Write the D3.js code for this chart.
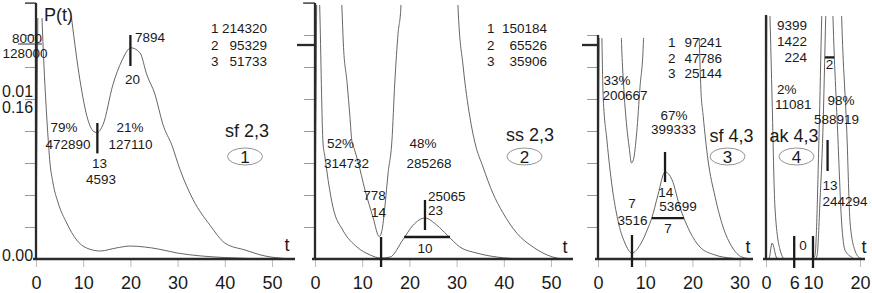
<!DOCTYPE html>
<head>
  <meta charset="utf-8" />
  <script src="https://cdn.jsdelivr.net/npm/d3@7"></script>
  <style>
    body { margin: 0; background: #fff; }
    svg { display: block; font-family: "Liberation Sans", Arial, sans-serif; }
    .curve { fill: none; stroke: #666; stroke-width: 1; }
    .axline { stroke: #2a2a2a; stroke-width: 2.3; }
    .mark { stroke: #1a1a1a; stroke-width: 2.3; }
    .ytick line { stroke: #999; }
    .xtick line { stroke: #bbb; }
    text { fill: #1a1a1a; }
  </style>
</head>

<body>
  <svg width="872" height="293"></svg>
  <script>
    // P(t) values are given in units of 1e-3 (tick step = 2 = 0.002)
    // panel 1  sf 2,3
    const t1 = [0, 0.7, 1.3, 2.6, 2.9, 3.6, 4.7, 6.5, 8.6, 10.7, 13.6, 17, 20, 23, 26, 30, 35, 40, 45, 50];
    const p1 = [0, 20, 14.8, 7.4, 6.2, 4.75, 3.5, 2.25, 1.19, 0.69, 0.5, 0.69, 0.81, 0.75, 0.62, 0.37, 0.19, 0.09, 0.03, 0];
    const t1m = [0, 0.3, 4, 7.6, 9.3, 11, 12.1, 12.9, 14.2, 16.3, 18.2, 20.1, 22, 23.5, 25.2, 26.9, 28.8, 30.5, 33.3, 36.9, 40, 44.3, 48.5, 52.8];
    const p1m = [0, 25, 25, 14.9, 11.2, 8.7, 8.0, 7.9, 8.4, 10.9, 12.4, 13.2, 12.9, 11.5, 10.3, 8.4, 7.1, 5.6, 3.7, 2.1, 1.0, 0.56, 0.19, 0.03];

    // panel 2  ss 2,3
    const t2 = [0, 0.6, 1.0, 1.7, 2.1, 2.8, 3.8, 5.9, 8.9, 11.7, 13.8, 15.9, 18.6, 20.8, 23.3, 25.8, 28, 30.7, 34.3, 38.6, 44];
    const p2 = [0, 20, 15.75, 7.25, 6.4, 4.9, 3.25, 1.8, 0.75, 0.25, 0.06, 0.12, 1.19, 2.12, 2.56, 2.12, 1.5, 0.75, 0.37, 0.12, 0];
    const t2m = [0, 0.5, 4, 5.7, 6.0, 6.8, 7.4, 7.8, 8.3, 9.1, 10.6, 12.3, 13.6, 14.2, 14.8, 15.5, 16.3, 16.9, 17.6, 18.2, 19, 29.5, 30.3, 31.4, 32.8, 33.9, 35.6, 37.7, 39.8, 42.8, 46.2, 50.4, 52.5];
    const p2m = [0, 25, 25, 15.75, 13.5, 11, 8.9, 7.4, 6.9, 6.1, 4.3, 2.6, 1.4, 1.8, 3.25, 5.4, 7.4, 11, 14.1, 15.75, 25, 25, 15.75, 12, 8.9, 7.25, 5.75, 4.1, 2.9, 1.6, 0.75, 0.12, 0];

    // panel 3  sf 4,3
    const t3 = [0, 0.4, 0.85, 1.06, 1.9, 3.0, 4.2, 5.7, 7.2, 8.9, 10.6, 11.4, 12.7, 14.2, 15.7, 17.4, 18.2, 19.5, 21.6, 24.8, 28, 31];
    const p3 = [0, 18, 13.4, 10.4, 7.4, 4.5, 2.44, 1.0, 0.37, 0.87, 1.94, 2.56, 4.0, 5.44, 4.94, 3.19, 2.56, 1.69, 0.75, 0.25, 0.06, 0];
    const t3m = [0, 0.3, 4.5, 5.0, 5.4, 6.1, 6.6, 7.1, 7.5, 8.2, 8.9, 9.6, 10.2, 20.5, 21.4, 21.8, 22.3, 23.3, 24.8, 26.5, 28.4, 30.5, 32.6];
    const p3m = [0, 20, 20, 13.4, 11, 8.25, 7, 6, 6.2, 7.9, 10.75, 13.4, 20, 20, 14.2, 10.6, 8.9, 6.2, 3.9, 2, 0.75, 0.12, 0];

    // panel 4  ak 4,3
    const t4 = [0, 0.6, 1.3, 2.3, 3, 10.3, 10.85, 11.5, 12.1, 12.7, 13.3, 13.8, 14.25, 15.25, 16.1, 16.8, 18.2, 19, 21];
    const p4 = [0, 0, 1.0, 0.06, 0, 0, 0.2, 3.7, 7.9, 15.1, 22, 20, 15.1, 7.9, 2.25, 0.56, 0.12, 0, 0];
    const t4m = [0, 0.3, 0.85, 1.3, 1.9, 3.0, 4.0, 9.5, 10.4, 11.3, 11.85, 12.5, 15.5, 16.1, 17.2, 17.9, 18.9, 20, 21];
    const p4m = [0, 20, 15.1, 9.9, 3.25, 0.56, 0, 0, 0.2, 7.9, 15.1, 22, 22, 15.1, 7.9, 2.25, 0.56, 0.06, 0];

    // tick labels
    const xTicks1 = [0, 10, 20, 30, 40, 50];
    const xTicks2 = [0, 10, 20, 30, 40, 50];
    const xTicks3 = [0, 10, 20, 30];
    const xTicks4 = [0, 6, 10, 20];
    const yTicks12 = [2, 4, 6, 8, 10, 12, 14, 16];
    const yTicks3 = [2, 4, 6, 8, 10, 12, 14];

    // annotation marks: vertical [t, v0, v1], horizontal [v, t0, t1]
    const vmarks = [
      [[20, 12.06, 14], [13, 6.6, 8.5]],
      [[14, -0.5, 1.375], [23.3, 1.81, 3.69]],
      [[7.2, -0.5, 1.5], [14.2, 4.81, 6.69]],
      [[6, -0.56, 1.44], [10, -0.56, 1.44], [13.1, 5.5, 7.44]]
    ];
    const hmarks = [[], [[1.375, 18.9, 28.6]], [[2.56, 11.4, 18.2]], [[12.6, 12.55, 14.5]]];

    const panels = [
      { x0: 36, xEnd: 295, top: 3, clipTop: 18, k: 4.72, t: t1, p: p1, tm: t1m, pm: p1m, ticks: xTicks1, yt: yTicks12 },
      { x0: 315, xEnd: 573, top: 3, clipTop: 5, k: 4.72, t: t2, p: p2, tm: t2m, pm: p2m, ticks: xTicks2, yt: yTicks12 },
      { x0: 598, xEnd: 753, top: 35, clipTop: 38, k: 4.72, t: t3, p: p3, tm: t3m, pm: p3m, ticks: xTicks3, yt: yTicks3 },
      { x0: 766, xEnd: 865, top: 15, clipTop: 16, k: 4.7, t: t4, p: p4, tm: t4m, pm: p4m, ticks: xTicks4, yt: [] }
    ];

    const svg = d3.select("svg");
    const base = 259;
    const y = d3.scaleLinear().domain([0, 16]).range([base, 3]);

    panels.forEach((P, i) => {
      const tMax = (P.xEnd - P.x0) / P.k;
      const x = d3.scaleLinear().domain([0, tMax]).range([P.x0, P.xEnd]);
      const g = svg.append("g");

      svg.append("clipPath").attr("id", "clip" + i)
        .append("rect").attr("x", P.x0).attr("y", P.clipTop)
        .attr("width", P.xEnd - P.x0).attr("height", base - P.clipTop + 1);

      // y ticks
      if (P.yt.length) {
        g.append("g").attr("class", "ytick")
          .attr("transform", `translate(${P.x0},0)`)
          .call(d3.axisLeft(y).tickValues(P.yt).tickSize(11).tickFormat(""))
          .call(s => s.select(".domain").remove());
      }
      // x ticks
      g.append("g").attr("class", "xtick")
        .attr("transform", `translate(0,${base})`)
        .call(d3.axisBottom(x).tickValues(P.ticks).tickSize(8).tickPadding(9))
        .call(s => s.select(".domain").remove())
        .selectAll("text").attr("font-size", 18).attr("fill", "#1a1a1a")
        .attr("font-family", '"Liberation Sans", Arial, sans-serif');

      const line = d3.line().x(d => x(d[0])).y(d => y(d[1])).curve(d3.curveMonotoneX);
      const cg = g.append("g").attr("clip-path", `url(#clip${i})`);
      cg.append("path").attr("class", "curve").attr("d", line(P.t.map((t, j) => [t, P.p[j]])));
      cg.append("path").attr("class", "curve").attr("d", line(P.tm.map((t, j) => [t, P.pm[j]])));

      // axes
      g.append("line").attr("class", "axline")
        .attr("x1", P.x0).attr("x2", P.x0).attr("y1", P.top).attr("y2", base);
      g.append("line").attr("class", "axline")
        .attr("x1", P.x0 - 3).attr("x2", P.xEnd).attr("y1", base).attr("y2", base);

      vmarks[i].forEach(m => {
        g.append("line").attr("class", "mark")
          .attr("x1", x(m[0])).attr("x2", x(m[0])).attr("y1", y(m[1])).attr("y2", y(m[2]));
      });
      hmarks[i].forEach(m => {
        g.append("line").attr("class", "mark")
          .attr("x1", x(m[1])).attr("x2", x(m[2])).attr("y1", y(m[0])).attr("y2", y(m[0]));
      });
    });

    // long ticks on panels 2 and 3
    svg.append("line").attr("class", "axline").attr("x1", 297).attr("x2", 315).attr("y1", y(13.375)).attr("y2", y(13.375));
    svg.append("line").attr("class", "axline").attr("x1", 582).attr("x2", 598).attr("y1", y(13.375)).attr("y2", y(13.375));
    svg.append("line").attr("stroke", "#333").attr("stroke-width", 1.2).attr("x1", 25).attr("x2", 36).attr("y1", 3).attr("y2", 3);
    svg.append("line").attr("stroke", "#333").attr("stroke-width", 1.2).attr("x1", 303).attr("x2", 315).attr("y1", 3).attr("y2", 3);
    // fraction bar
    svg.append("line").attr("stroke", "#333").attr("stroke-width", 1).attr("x1", 18).attr("x2", 42).attr("y1", 44).attr("y2", 44);

    // legend tables
    const counts = [
      { xi: 211, xv: 267, ys: [28, 45, 61], v: ["214320", "95329", "51733"] },
      { xi: 487, xv: 547, ys: [28, 45, 61], v: ["150184", "65526", "35906"] },
      { xi: 668, xv: 722, ys: [42, 58, 73], v: ["97241", "47786", "25144"] }
    ];
    counts.forEach(c => {
      c.v.forEach((v, j) => {
        svg.append("text").attr("x", c.xi).attr("y", c.ys[j]).attr("dy", "0.36em").attr("font-size", 13.5).text(j + 1);
        svg.append("text").attr("x", c.xv).attr("y", c.ys[j]).attr("dy", "0.36em").attr("font-size", 13.5)
          .attr("text-anchor", "end").text(v);
      });
    });

    // ellipses with panel numbers
    [[245, "1"], [524.5, "2"], [727.5, "3"], [796.5, "4"]].forEach(e => {
      svg.append("ellipse").attr("cx", e[0]).attr("cy", 156.5).attr("rx", 17.5).attr("ry", 8.5)
        .attr("fill", "none").attr("stroke", "#777").attr("stroke-width", 0.8);
      svg.append("text").attr("x", e[0]).attr("y", 156.5).attr("dy", "0.36em")
        .attr("text-anchor", "middle").attr("font-size", 17).text(e[1]);
    });

    // labels: [text, x, y, anchor, size]
    const labels = [
      ["P(t)", 44, 15, "start", 18], ["8000", 27, 38, "middle", 13.5], ["128000", 25, 53, "middle", 13.5],
      ["0.01", 2, 91, "start", 16], ["0.16", 2, 107, "start", 16], ["0.00", 2, 255, "start", 16],
      ["7894", 135, 37, "start", 13.5], ["20", 132.5, 79, "middle", 13.5],
      ["79%", 64, 127, "middle", 13.5], ["472890", 68, 144, "middle", 13.5],
      ["21%", 130, 127, "middle", 13.5], ["127110", 130.5, 144, "middle", 13.5],
      ["13", 99.5, 163, "middle", 13.5], ["4593", 101, 179, "middle", 13.5],
      ["sf 2,3", 247, 131, "middle", 18], ["t", 287, 245, "middle", 18],

      ["52%", 340.5, 143, "middle", 13.5], ["314732", 346.5, 163, "middle", 13.5],
      ["48%", 423, 143, "middle", 13.5], ["285268", 429, 163, "middle", 13.5],
      ["778", 374.5, 195, "middle", 13.5], ["14", 378.5, 212, "middle", 13.5],
      ["25065", 428, 196, "start", 13.5], ["23", 428, 210, "start", 13.5],
      ["10", 425, 248, "middle", 13.5], ["ss 2,3", 530, 135, "middle", 18], ["t", 565, 247, "middle", 18],

      ["33%", 617, 80, "middle", 13.5], ["200667", 625, 95, "middle", 13.5],
      ["67%", 674, 115, "middle", 13.5], ["399333", 673.5, 129.5, "middle", 13.5],
      ["14", 665.7, 192, "middle", 13.5], ["53699", 678, 206, "middle", 13.5],
      ["7", 668, 228, "middle", 13.5], ["7", 632, 203, "middle", 13.5], ["3516", 632.5, 220, "middle", 13.5],
      ["sf 4,3", 731.5, 136, "middle", 18], ["t", 748, 247, "middle", 18],

      ["9399", 807, 25, "end", 13.5], ["1422", 807, 41, "end", 13.5], ["224", 807, 57, "end", 13.5],
      ["2%", 777, 89, "start", 13.5], ["11081", 775, 104, "start", 13.5],
      ["98%", 841, 100, "middle", 13.5], ["588919", 836.5, 119, "middle", 13.5],
      ["13", 830, 185, "middle", 13.5], ["244294", 845, 201, "middle", 13.5],
      ["2", 829.5, 64, "middle", 13.5], ["0", 803, 245, "middle", 13.5],
      ["ak 4,3", 794, 136, "middle", 18], ["t", 864, 247, "middle", 18]
    ];
    svg.append("g").selectAll("text").data(labels).enter().append("text")
      .attr("x", d => d[1]).attr("y", d => d[2]).attr("dy", "0.36em")
      .attr("text-anchor", d => d[3]).attr("font-size", d => d[4])
      .text(d => d[0]);
  </script>
</body>
